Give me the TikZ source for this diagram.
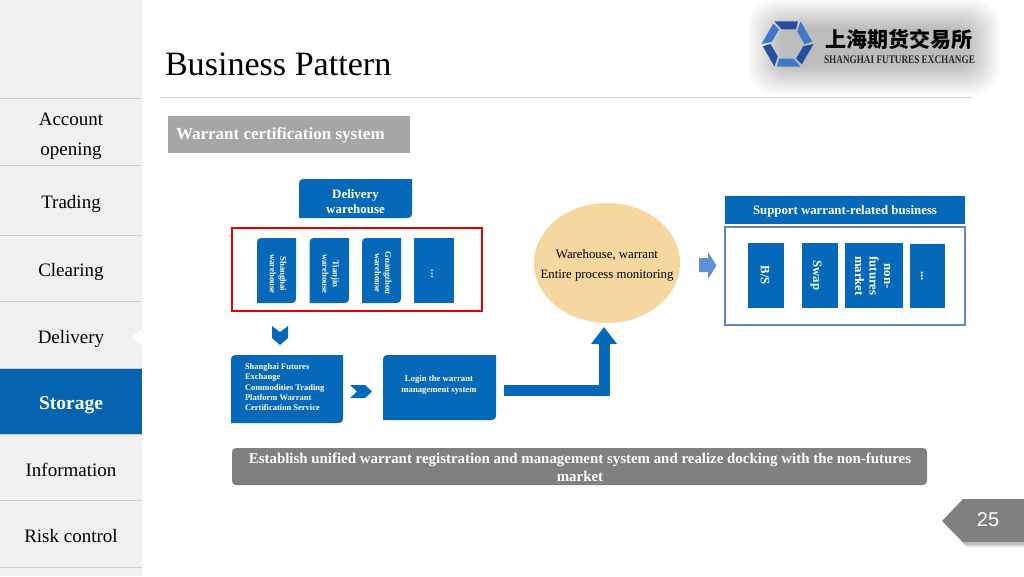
\documentclass[tikz,border=0pt]{standalone}
\usepackage{fontspec}
\setmainfont{Liberation Serif}
\newfontfamily\cjk{Noto Sans CJK SC}
\newfontfamily\lsans{Liberation Sans}
\usetikzlibrary{arrows.meta,shapes.geometric}
\definecolor{sse}{HTML}{0668B8}
\definecolor{store}{HTML}{0563AF}
\definecolor{side}{HTML}{F0F0F0}
\definecolor{sepc}{HTML}{CBCBCB}
\definecolor{tan1}{HTML}{F5D79F}
\definecolor{frameb}{HTML}{5F86C2}
\definecolor{arrowl}{HTML}{5F8FD8}
\definecolor{hexa}{HTML}{274E9E}
\definecolor{hexb}{HTML}{3E78C8}
\newcommand{\leaf}[4]{\fill[sse] (#1,#4) -- (#1,{#2+9}) .. controls (#1,#2) .. ({#1+9},#2) -- (#3,#2) -- (#3,{#4-9}) .. controls (#3,#4) .. ({#3-9},#4) -- cycle;}
\tikzset{
  x=1pt,y=-1pt,
  every node/.style={inner sep=0pt,outer sep=0pt},
  sidelabel/.style={anchor=base,font=\fontsize{19}{19}\selectfont,text=black,align=center},
  whitebold/.style 2 args={font=\fontsize{#1}{#2}\selectfont\bfseries,text=white,align=center},
  vlabel/.style 2 args={rotate=-90,font=\fontsize{#1}{#2}\selectfont\bfseries,text=white,align=center},
  sepline/.style={draw=sepc,line width=1pt},
}
\begin{document}
\begin{tikzpicture}
\useasboundingbox (0,0) rectangle (1024,576);
\fill[white] (0,0) rectangle (1024,576);
% sidebar
\fill[side] (0,0) rectangle (142,576);
\fill[store] (0,368) rectangle (142,434);
\foreach \yy in {98,165,235,301,368,434,500,567}{\draw[sepline] (0,\yy) -- (142,\yy);}
\fill[white] (142,329) -- (132,337) -- (142,345) -- cycle;
\node[sidelabel] (s1) at (71,125.5) {Account};
\node[sidelabel] (s1b) at (71,155) {opening};
\node[sidelabel] (s2) at (71,208) {Trading};
\node[sidelabel] (s3) at (71,276) {Clearing};
\node[sidelabel] (s4) at (71,343) {Delivery};
\node[anchor=base,whitebold={19.5}{20}] (s5) at (71,409) {Storage};
\node[sidelabel] (s6) at (71,476) {Information};
\node[sidelabel] (s7) at (71,542.5) {Risk control};
% title
\node[anchor=base west,font=\fontsize{34.1}{36}\selectfont,text=black] (title) at (165,75) {Business Pattern};
\draw[draw=sepc!80,line width=.8pt] (160,97) -- (972,97);
% logo glow
\foreach \i in {0,...,13}{
  \fill[black,opacity=.018,rounded corners={26-\i}] ({748+\i*2.6},{0+\i*2.2}) rectangle ({1000-\i*2.6},{94-\i*2.2});
}
\foreach \a/\c in {0/hexa,60/hexb,120/hexa,180/hexb,240/hexa,300/hexb}{
  \fill[\c] ({787.5+26*cos(\a)},{44+26*sin(\a)})
    -- ({787.5+26*(.1*cos(\a)+.9*cos(\a+60))},{44+26*(.1*sin(\a)+.9*sin(\a+60))})
    -- ({787.5+17*cos(\a+60)},{44+17*sin(\a+60)})
    -- ({787.5+17*(.85*cos(\a)+.15*cos(\a+60))},{44+17*(.85*sin(\a)+.15*sin(\a+60))}) -- cycle;
}
\node[font=\fontsize{21}{21}\selectfont\cjk\bfseries,text=black] (logocn) at (899,39) {上海期货交易所};
\node[font=\fontsize{11.5}{12}\selectfont\bfseries,text=black!85,xscale=.8] (logoen) at (899.5,59.5) {SHANGHAI FUTURES EXCHANGE};
% heading
\fill[black!35] (168,116) rectangle (410,153);
\node[anchor=base west,whitebold={17}{17}] (head) at (176,139) {Warrant certification system};
% delivery warehouse
\leaf{299}{179}{412}{218}
\node[whitebold={12.9}{15}] (dw) at (355.5,202) {Delivery\\warehouse};
\draw[red!90!black,line width=2pt] (232,227.5) rectangle (482,311);
\leaf{257}{238}{296}{303}
\node[vlabel={8.7}{10.5}] (w1) at (278,274) {Shanghai\\warehouse};
\leaf{309.5}{238}{349}{303}
\node[vlabel={8.7}{10.5}] (w2) at (330.5,274) {Tianjin\\warehouse};
\leaf{362}{238}{401}{303}
\node[vlabel={8.7}{10.5}] (w3) at (383,273) {Guangzhou\\warehouse};
\fill[sse] (414,238) rectangle (454,303);
\node[vlabel={10.7}{12}] (w4) at (432,274) {...};
% down chevron
\fill[sse] (272,326) -- (280,332) -- (288,326) -- (288,338) -- (280,345) -- (272,338) -- cycle;
% Shanghai box
\leaf{231}{355}{343}{423}
\node[anchor=north west,font=\fontsize{8.5}{10.3}\selectfont\bfseries,text=white,align=left] (sh) at (245,363.5) {Shanghai Futures\\Exchange\\Commodities Trading\\Platform Warrant\\Certification Service};
% right chevron
\fill[sse] (350,385) -- (365,385) -- (372,391.5) -- (365,398) -- (350,398) -- (357,391.5) -- cycle;
% login box
\leaf{383}{355}{496}{420}
\node[whitebold={8.7}{10.5}] (login) at (439,385) {Login the warrant\\management system};
% ellipse
\node[ellipse,fill=tan1,minimum width=146pt,minimum height=120pt] (mon) at (607,263) {};
\node[font=\fontsize{12.8}{20}\selectfont,text=black,align=center] (monl) at (607,265.5) {Warehouse, warrant\\Entire process monitoring};
% elbow arrow
\coordinate (elstart) at (504,390.5);
\coordinate (eltip) at (604,327);
\draw[sse,line width=11pt,-{Triangle[length=17pt,width=25pt]}] (elstart) -| (eltip);
% light arrow
\fill[arrowl] (699,258) -- (708,258) -- (708,252) -- (716.5,265.5) -- (708,279) -- (708,272) -- (699,272) -- cycle;
% support
\fill[sse] (725,196) rectangle (965,224);
\node[whitebold={12.8}{14}] (sup) at (845,211.5) {Support warrant-related business};
\draw[frameb,line width=2pt] (725,226.5) rectangle (965,325);
\fill[sse] (748,243) rectangle (784,308);
\node[vlabel={12.8}{14.5}] (b1) at (765,275.5) {B/S};
\fill[sse] (802,243) rectangle (838,308);
\node[vlabel={12.8}{14.5}] (b2) at (816,275.5) {Swap};
\fill[sse] (845,243) rectangle (903,308);
\node[vlabel={12.8}{14.5}] (b3) at (872.5,276) {non-\\futures\\market};
\fill[sse] (910,244) rectangle (945,308);
\node[vlabel={12.8}{14.5}] (b4) at (922,276) {...};
% bottom bar
\fill[black!50,rounded corners=4pt] (232,448) rectangle (927,485);
\node[whitebold={14.9}{18}] (bar) at (580,467) {Establish unified warrant registration and management system and realize docking with the non-futures\\market};
% page number
\fill[black!12] (947,526) -- (967,505) -- (1024,505) -- (1024,547) -- (967,547) -- cycle;
\fill[black!25] (945,524) -- (965,502) -- (1024,502) -- (1024,545) -- (965,545) -- cycle;
\fill[black!50] (942,521) -- (963,499) -- (1024,499) -- (1024,542) -- (963,542) -- cycle;
\node[font=\fontsize{20}{20}\selectfont\lsans,text=white] (pg) at (988,520) {25};
\end{tikzpicture}
\end{document}
